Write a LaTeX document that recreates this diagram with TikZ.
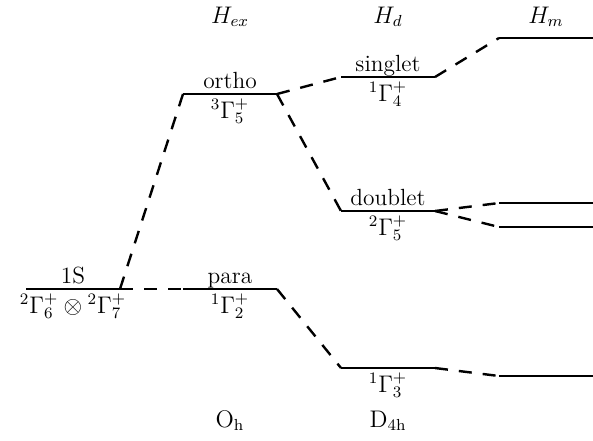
\documentclass[tikz,border=0pt]{standalone}
\begin{document}
\begin{tikzpicture}[x=0.5pt,y=-0.5pt,
  lvl/.style={line width=1.2pt},
  conn/.style={line width=1.2pt, dash pattern=on 6.5pt off 5.5pt},
  lab/.style={anchor=base, inner sep=0pt, font=\fontsize{11.7}{14}\selectfont}]
\useasboundingbox (0,0) rectangle (593,440);
% level end points
\coordinate (sL) at (26,289);  \coordinate (sR) at (120,289);
\coordinate (pL) at (183,289); \coordinate (pR) at (277,289);
\coordinate (oL) at (183,94);  \coordinate (oR) at (277,94);
\coordinate (gL) at (341,77);  \coordinate (gR) at (435,77);
\coordinate (dL) at (341,211); \coordinate (dR) at (435,211);
\coordinate (tL) at (341,368); \coordinate (tR) at (435,368);
\coordinate (m1L) at (499,38);  \coordinate (m1R) at (593,38);
\coordinate (m2L) at (499,203); \coordinate (m2R) at (593,203);
\coordinate (m3L) at (499,227); \coordinate (m3R) at (593,227);
\coordinate (m4L) at (499,376); \coordinate (m4R) at (593,376);
% levels
\foreach \a/\b in {sL/sR,pL/pR,oL/oR,gL/gR,dL/dR,tL/tR,m1L/m1R,m2L/m2R,m3L/m3R,m4L/m4R}
  \draw[lvl] (\a) -- (\b);
% connectors
\draw[conn] (sR) -- (pL);
\draw[conn] (sR) -- (oL);
\draw[conn] (oR) -- (gL);
\draw[conn] (oR) -- (dL);
\draw[conn] (pR) -- (tL);
\draw[conn] (gR) -- (m1L);
\draw[conn] (dR) -- (m2L);
\draw[conn] (dR) -- (m3L);
\draw[conn] (tR) -- (m4L);
% labels
\node[lab] (l1S) at (73,283) {1S};
\node[lab] (g1S) at (73,313) {$^2\Gamma_6^+\otimes{}^2\Gamma_7^+$};
\node[lab] (lpara) at (230,283) {para};
\node[lab] (gpara) at (230,313) {$^1\Gamma_2^+$};
\node[lab] (lortho) at (230,88) {ortho};
\node[lab] (gortho) at (230,118) {$^3\Gamma_5^+$};
\node[lab] (lsing) at (388,71) {singlet};
\node[lab] (gsing) at (388,101) {$^1\Gamma_4^+$};
\node[lab] (ldoub) at (388,205) {doublet};
\node[lab] (gdoub) at (388,235) {$^2\Gamma_5^+$};
\node[lab] (gthree) at (388,392) {$^1\Gamma_3^+$};
\node[lab] (hex) at (230,23) {$H_{ex}$};
\node[lab] (hd) at (388,23) {$H_d$};
\node[lab] (hm) at (546,23) {$H_m$};
\node[lab] (oh) at (230,427) {$\mathrm{O_h}$};
\node[lab] (dfh) at (388,427) {$\mathrm{D_{4h}}$};
\end{tikzpicture}
\end{document}
